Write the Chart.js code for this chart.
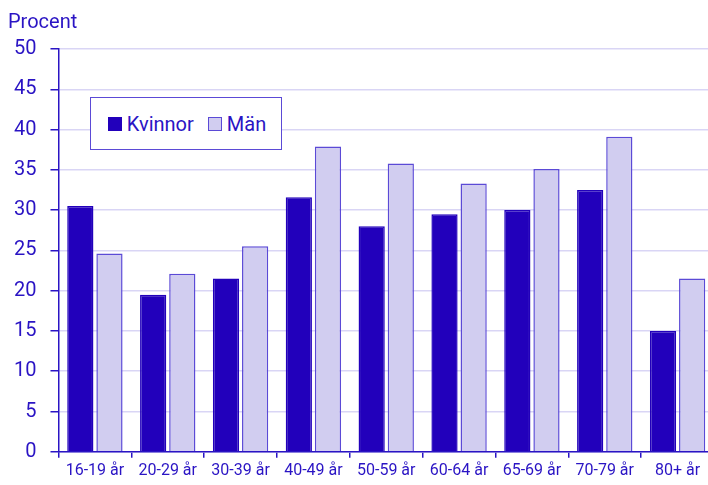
<!DOCTYPE html>
<html>
<head>
<meta charset="utf-8">
<script src="https://cdn.jsdelivr.net/npm/chart.js@4/dist/chart.umd.min.js"></script>
<style>
  html,body{margin:0;padding:0;background:#fff;overflow:hidden;}
  #wrap{position:relative;width:708px;height:485px;overflow:hidden;font-family:Roboto,"Noto Sans",sans-serif;}
  #c{position:absolute;left:0;top:0;}
  #ytitle{position:absolute;left:8px;top:9px;font-size:20px;color:#2a14c4;}
  #legend{position:absolute;left:90px;top:97px;width:192px;height:53px;border:1.5px solid #5b4ad6;box-sizing:border-box;background:#fff;
    display:flex;align-items:center;justify-content:center;gap:14px;font-size:20px;color:#2a14c4;padding-left:2px;}
  .item{display:flex;align-items:center;gap:5px;}
  .sw{width:14px;height:14px;box-sizing:border-box;}
</style>
</head>
<body>
<div id="wrap">
  <canvas id="c" width="714" height="485"></canvas>
  <div id="ytitle">Procent</div>
  <div id="legend"></div>
</div>
<script>
// data
const categories = ['16-19 år','20-29 år','30-39 år','40-49 år','50-59 år','60-64 år','65-69 år','70-79 år','80+ år'];
const kvinnor = [30.5, 19.5, 21.5, 31.6, 28.0, 29.5, 30.0, 32.5, 15.0];
const man     = [24.6, 22.1, 25.5, 37.9, 35.8, 33.3, 35.1, 39.1, 21.5];
const yTicks  = [0,5,10,15,20,25,30,35,40,45,50];

const DARK = '#2200bb', LIGHT = '#d1cdf0', EDGE = '#5b4ad6', TXT = '#2a14c4';

const series = [
  {label:'Kvinnor', data:kvinnor, bg:DARK, border:DARK},
  {label:'Män', data:man, bg:LIGHT, border:EDGE},
];

document.getElementById('legend').innerHTML = series.map(s =>
  `<span class="item"><span class="sw" style="background:${s.bg};border:1.5px solid ${s.border}"></span>${s.label}</span>`).join('');

new Chart(document.getElementById('c'), {
  type:'bar',
  data:{
    labels:categories,
    datasets:series.map(s => ({
      label:s.label, data:s.data, backgroundColor:s.bg, borderColor:s.border, borderWidth:1.5,
      categoryPercentage:0.8, barPercentage:0.9
    }))
  },
  options:{
    responsive:false, animation:false,
    layout:{padding:{top:49,right:0,left:0,bottom:0}},
    plugins:{legend:{display:false},tooltip:{enabled:false}},
    scales:{
      x:{
        grid:{drawOnChartArea:false,tickLength:6,tickColor:TXT,lineWidth:1.5},
        border:{color:TXT,width:1.5},
        ticks:{color:TXT,font:{family:'Roboto',size:16},padding:4,maxRotation:0,autoSkip:false}
      },
      y:{
        min:0,max:50,
        afterBuildTicks:ax => { ax.ticks = yTicks.map(v => ({value:v})); },
        grid:{color:'#d9d5f5',lineWidth:1.5,tickLength:8,tickColor:TXT},
        border:{color:TXT,width:1.5},
        ticks:{color:TXT,font:{family:'Roboto',size:20},padding:14}
      }
    }
  }
});
</script>
</body>
</html>
